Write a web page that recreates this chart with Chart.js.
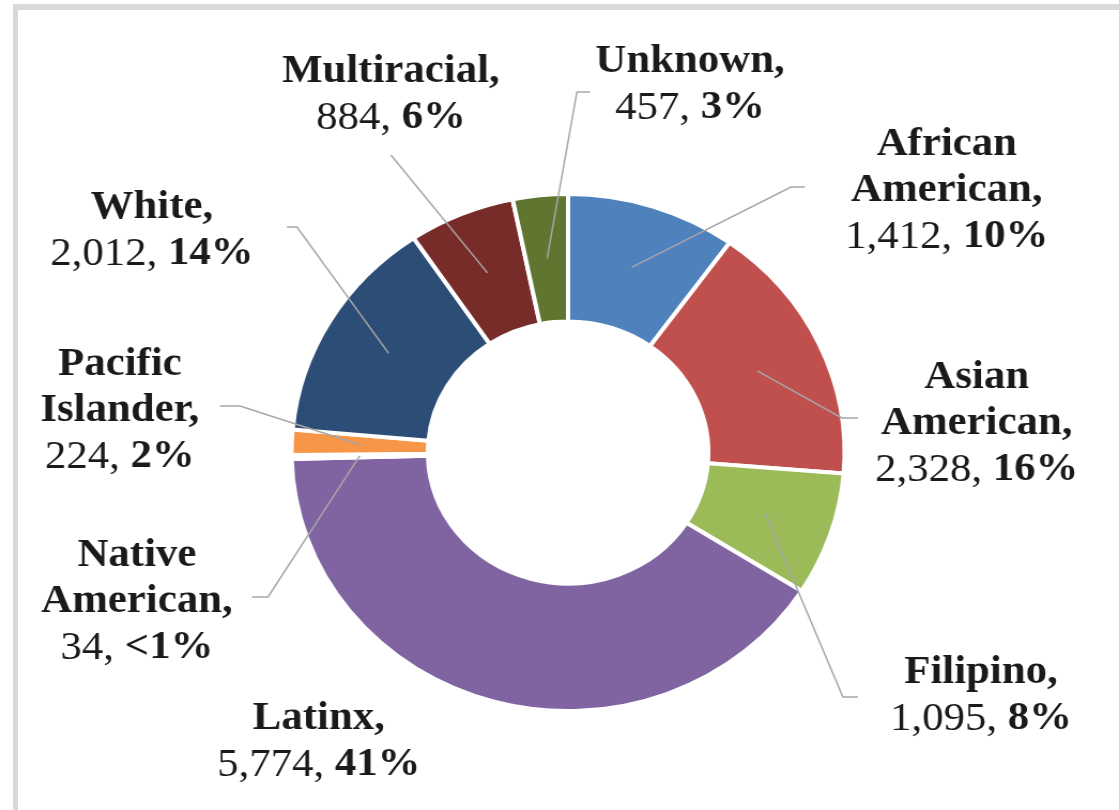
<!DOCTYPE html>
<html>
<head>
<meta charset="utf-8">
<title>Students by race / ethnicity</title>
<script src="https://cdn.jsdelivr.net/npm/chart.js@4.4.0/dist/chart.umd.min.js"></script>
<style>
  html, body { margin: 0; padding: 0; background: #fff; overflow: hidden; }
  #frame {
    position: absolute; left: 13px; top: 4px; width: 1200px; height: 900px;
    border-top: 6px solid #d9d9d9; border-left: 5px solid #d9d9d9;
  }
  #wrap {
    position: absolute; left: 0; top: 0; width: 1046px; height: 810px;
    transform: scaleX(1.0698); transform-origin: 0 0;
  }
</style>
</head>
<body>
<div id="frame"></div>
<div id="wrap"><canvas id="chart" width="1046" height="810"></canvas></div>
<script>
// Slices run clockwise from 12 o'clock
const categories = ['African American', 'Asian American', 'Filipino', 'Latinx', 'Native American',
                    'Pacific Islander', 'White', 'Multiracial', 'Unknown'];
const counts = [1412, 2328, 1095, 5774, 34, 224, 2012, 884, 457];
const sliceColors = ['#4F81BD', '#C0504D', '#9BBB59', '#8064A2', '#4BACC6',
                     '#F79646', '#2C4D75', '#772C2A', '#5F7530'];

// Callout placement, in px from the doughnut centre:
// text = centre of first text line, elbow/end = bend and end of the leader line
const labelLayout = [
  { wrap: true,  text: [354, -307.5],  elbow: [208.3, -265.5], end: [221.3, -265.5] },
  { wrap: true,  text: [382, -74.5],   elbow: [255.9, -34.5],  end: [270.9, -34.5] },
  { wrap: false, text: [386, 220.5],   elbow: [256.9, 244.5],  end: [270.9, 244.5] },
  { wrap: false, text: [-233, 266.5] },
  { wrap: true,  text: [-403, 103.5],  elbow: [-280.5, 144.5], end: [-295.5, 144.5] },
  { wrap: true,  text: [-419, -87.5],  elbow: [-306.7, -46.5], end: [-325.4, -46.5] },
  { wrap: false, text: [-389, -244.5], elbow: [-253.4, -225.5], end: [-262.8, -225.5] },
  { wrap: false, text: [-165.6, -380.5], elbow: [-165.6, -297.5], end: [-165.6, -297.5] },
  { wrap: false, text: [114, -390.5],  elbow: [8.3, -360.5],   end: [20.4, -360.5] }
];

const FONT_FAMILY = '"Liberation Serif", "Times New Roman", serif';
const FONT_SIZE = 40;
const LINE_HEIGHT = 46;

function percentText(value, total) {
  const pct = Math.round(value / total * 100);
  return pct < 1 ? '<1%' : pct + '%';
}

// Excel-style data callouts: leader line from the ring middle, then the label text
const calloutLabels = {
  id: 'calloutLabels',
  afterDatasetsDraw(chart) {
    const ctx = chart.ctx;
    const arcs = chart.getDatasetMeta(0).data;
    const total = counts.reduce((a, b) => a + b, 0);
    const cx = arcs[0].x;
    const cy = arcs[0].y;

    ctx.save();
    ctx.strokeStyle = '#a6a6a6';
    ctx.lineWidth = 1.5;
    arcs.forEach((arc, i) => {
      const lay = labelLayout[i];
      if (!lay.elbow) return;
      const p = arc.tooltipPosition();
      ctx.beginPath();
      ctx.moveTo(p.x, p.y);
      ctx.lineTo(cx + lay.elbow[0], cy + lay.elbow[1]);
      ctx.lineTo(cx + lay.end[0], cy + lay.end[1]);
      ctx.stroke();
    });

    const bold = 'bold ' + FONT_SIZE + 'px ' + FONT_FAMILY;
    const regular = FONT_SIZE + 'px ' + FONT_FAMILY;
    ctx.fillStyle = '#1a1a1a';
    ctx.textBaseline = 'middle';
    categories.forEach((name, i) => {
      const lay = labelLayout[i];
      const x = cx + lay.text[0];
      let y = cy + lay.text[1];
      const nameLines = (lay.wrap ? name.split(' ') : [name]);
      nameLines[nameLines.length - 1] += ',';

      ctx.font = bold;
      ctx.textAlign = 'center';
      nameLines.forEach(line => {
        ctx.fillText(line, x, y);
        y += LINE_HEIGHT;
      });

      // value in regular weight, share in bold
      const valuePart = counts[i].toLocaleString('en-US') + ', ';
      const pctPart = percentText(counts[i], total);
      ctx.font = regular;
      const w1 = ctx.measureText(valuePart).width;
      ctx.font = bold;
      const w2 = ctx.measureText(pctPart).width;
      const left = x - (w1 + w2) / 2;
      ctx.textAlign = 'left';
      ctx.font = regular;
      ctx.fillText(valuePart, left, y);
      ctx.font = bold;
      ctx.fillText(pctPart, left + w1, y);
    });
    ctx.restore();
  }
};

new Chart(document.getElementById('chart'), {
  type: 'doughnut',
  data: {
    labels: categories,
    datasets: [{
      data: counts,
      backgroundColor: sliceColors,
      borderColor: '#ffffff',
      borderWidth: 4,
      hoverBorderWidth: 4
    }]
  },
  options: {
    responsive: false,
    animation: false,
    events: [],
    cutout: '50.7%',
    layout: { padding: { left: 270.5, right: 254.5, top: 192, bottom: 97 } },
    plugins: {
      legend: { display: false },
      tooltip: { enabled: false }
    }
  },
  plugins: [calloutLabels]
});
</script>
</body>
</html>
